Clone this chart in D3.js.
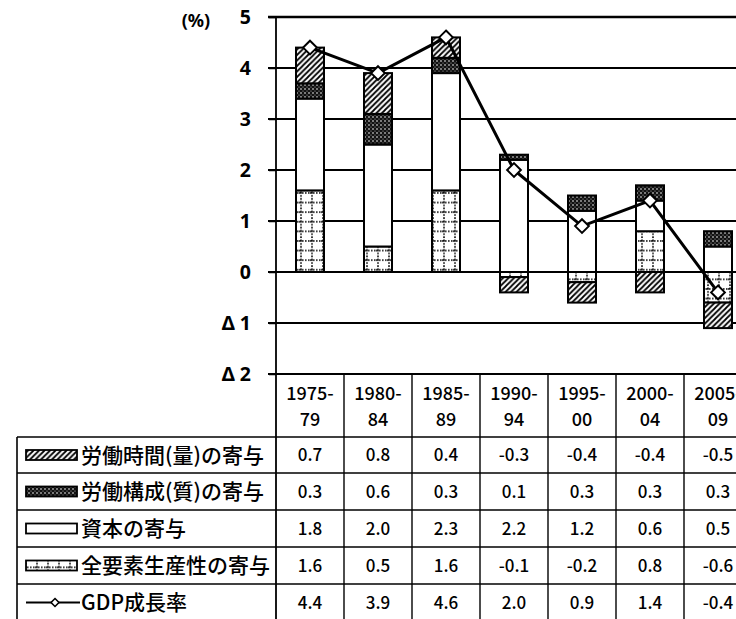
<!DOCTYPE html>
<html><head><meta charset="utf-8">
<script src="https://cdn.jsdelivr.net/npm/d3@7"></script>
<style>
body{margin:0;background:#fff;}
svg{display:block;}
</style></head>
<body>
<svg id="chart" width="736" height="619"></svg>
<script>
// ---- data ----
const periodTop = ["1975-","1980-","1985-","1990-","1995-","2000-","2005-"];
const periodBottom = ["79","84","89","94","00","04","09"];
const laborHours   = [0.7, 0.8, 0.4, -0.3, -0.4, -0.4, -0.5];
const laborQuality = [0.3, 0.6, 0.3, 0.1, 0.3, 0.3, 0.3];
const capital      = [1.8, 2.0, 2.3, 2.2, 1.2, 0.6, 0.5];
const tfp          = [1.6, 0.5, 1.6, -0.1, -0.2, 0.8, -0.6];
const gdp          = [4.4, 3.9, 4.6, 2.0, 0.9, 1.4, -0.4];
const yTicks = [5, 4, 3, 2, 1, 0, -1, -2];
const tickLabel = v => v < 0 ? "Δ " + (-v) : String(v);
const seriesNames = ["労働時間(量)の寄与","労働構成(質)の寄与","資本の寄与","全要素生産性の寄与","GDP成長率"];

const svg = d3.select("#chart");
const defs = svg.append("defs");

// patterns
const ph = defs.append("pattern").attr("id","hatch").attr("patternUnits","userSpaceOnUse")
  .attr("width",5.5).attr("height",5.5);
ph.append("rect").attr("width",5.5).attr("height",5.5).attr("fill","#fff");
ph.append("path").attr("d","M-1,1 l2,-2 M0,5.5 l5.5,-5.5 M4.5,6.5 l2,-2").attr("stroke","#000").attr("stroke-width",1.8);

const pq = defs.append("pattern").attr("id","dots").attr("patternUnits","userSpaceOnUse")
  .attr("width",4).attr("height",4);
pq.append("rect").attr("width",4).attr("height",4).attr("fill","#111");
pq.append("circle").attr("cx",1).attr("cy",1).attr("r",0.8).attr("fill","#fff");
pq.append("circle").attr("cx",3).attr("cy",3).attr("r",0.6).attr("fill","#bbb");

const pt = defs.append("pattern").attr("id","grid").attr("patternUnits","userSpaceOnUse")
  .attr("width",11).attr("height",9.6).attr("x",2).attr("y",0);
pt.append("rect").attr("width",11).attr("height",9.6).attr("fill","#fff");
pt.append("path").attr("d","M2,0 V9.6 M0,1 H11").attr("stroke","#000").attr("stroke-width",1.6)
  .attr("stroke-dasharray","1.6,1.4");

// ---- scales ----
const y = d3.scaleLinear().domain([-2,5]).range([374,17]);
const x = d3.scaleBand().domain(periodTop.map((d,i)=>i)).range([276, 276+7*68]).padding(0);
const barW = 28;

// gridlines
const g = svg.append("g");
g.selectAll("line.grid").data(yTicks).join("line")
  .attr("x1",268).attr("x2",736).attr("y1",d=>y(d)).attr("y2",d=>y(d))
  .attr("stroke","#000").attr("stroke-width",d=>d===5?2.4:1.8);

// y axis via d3
const yAxis = d3.axisLeft(y).tickValues(yTicks).tickFormat(tickLabel).tickSize(7).tickPadding(18);
const ya = svg.append("g").attr("transform","translate(276,0)").call(yAxis);
ya.select(".domain").remove();
ya.selectAll(".tick line").attr("stroke","#000").attr("stroke-width",1.5);
ya.selectAll(".tick text").attr("font-family","'Noto Sans', sans-serif").attr("font-size",19.5)
  .attr("font-weight","bold").attr("fill","#000");
svg.append("line").attr("x1",276).attr("x2",276).attr("y1",17).attr("y2",619)
  .attr("stroke","#000").attr("stroke-width",1.8);
svg.append("text").attr("x",196).attr("y",27).attr("text-anchor","middle")
  .attr("font-family","'Noto Sans', sans-serif").attr("font-size",18).attr("font-weight","bold")
  .text("(%)");

// ---- stacked bars ----
const rows = periodTop.map((p,i)=>({i, tfp:tfp[i], capital:capital[i], quality:laborQuality[i], hours:laborHours[i]}));
const keys = ["tfp","capital","quality","hours"];
const fills = {tfp:"url(#grid)", capital:"#fff", quality:"url(#dots)", hours:"url(#hatch)"};
const stack = d3.stack().keys(keys).offset(d3.stackOffsetDiverging)(rows);
const cx = i => x(i) + x.bandwidth()/2;
stack.forEach(s=>{
  svg.append("g").selectAll("rect").data(s.filter(d=>d[1]!==d[0])).join("rect")
    .attr("x",d=>cx(d.data.i)-barW/2).attr("width",barW)
    .attr("y",d=>y(Math.max(d[0],d[1]))).attr("height",d=>Math.abs(y(d[0])-y(d[1])))
    .attr("fill",fills[s.key]).attr("stroke","#000").attr("stroke-width",2);
});

// ---- GDP line ----
const line = d3.line().x((d,i)=>cx(i)).y(d=>y(d));
svg.append("path").attr("d",line(gdp)).attr("fill","none").attr("stroke","#000").attr("stroke-width",3);
svg.append("g").selectAll("path").data(gdp).join("path")
  .attr("d",d3.symbol().type(d3.symbolDiamond2).size(120))
  .attr("transform",(d,i)=>`translate(${cx(i)},${y(d)})`)
  .attr("fill","#fff").attr("stroke","#000").attr("stroke-width",2);

// ---- table ----
const rowY = [437,473,510,547,584,621];
const tbl = svg.append("g");
const jp = "'Noto Sans CJK JP', sans-serif";
// header category labels
const hdr = tbl.selectAll("g.h").data(periodTop).join("g");
hdr.append("text").attr("x",(d,i)=>cx(i)).attr("y",400).attr("text-anchor","middle")
  .attr("font-family",jp).attr("font-size",18).attr("font-weight",500).text(d=>d);
hdr.append("text").attr("x",(d,i)=>cx(i)).attr("y",426).attr("text-anchor","middle")
  .attr("font-family",jp).attr("font-size",18).attr("font-weight",500).text((d,i)=>periodBottom[i]);
// vertical column lines
tbl.selectAll("line.v").data(periodTop.map((d,i)=>i).slice(1)).join("line")
  .attr("x1",i=>x(i)).attr("x2",i=>x(i)).attr("y1",374).attr("y2",619)
  .attr("stroke","#000").attr("stroke-width",1.4);
// horizontal row lines
tbl.selectAll("line.r").data(rowY).join("line")
  .attr("x1",17).attr("x2",736).attr("y1",d=>d).attr("y2",d=>d)
  .attr("stroke","#000").attr("stroke-width",1.6);
tbl.append("line").attr("x1",17).attr("x2",17).attr("y1",437).attr("y2",619)
  .attr("stroke","#000").attr("stroke-width",1.6);

const tableSeries = [laborHours, laborQuality, capital, tfp, gdp];
tableSeries.forEach((vals,r)=>{
  const yc = (rowY[r]+rowY[r+1])/2;
  tbl.append("g").selectAll("text").data(vals).join("text")
    .attr("x",(d,i)=>cx(i)).attr("y",yc+6).attr("text-anchor","middle")
    .attr("font-family",jp).attr("font-size",17).attr("font-weight",500)
    .text(d=>d.toFixed(1));
  tbl.append("text").attr("x",81).attr("y",yc+7.5)
    .attr("font-family",jp).attr("font-size",21).attr("font-weight",500)
    .text(seriesNames[r]);
  const sy = yc - 5;
  if (r < 4) {
    const f = [fills.hours, fills.quality, fills.capital, fills.tfp][r];
    tbl.append("rect").attr("x",26).attr("y",sy).attr("width",51).attr("height",10)
      .attr("fill",f).attr("stroke","#000").attr("stroke-width",1.8);
  } else {
    tbl.append("line").attr("x1",26).attr("x2",80).attr("y1",yc).attr("y2",yc)
      .attr("stroke","#000").attr("stroke-width",2);
    tbl.append("path").attr("d",d3.symbol().type(d3.symbolDiamond2).size(40))
      .attr("transform",`translate(55,${yc})`).attr("fill","#fff").attr("stroke","#000").attr("stroke-width",1.6);
  }
});
</script>
</body></html>
